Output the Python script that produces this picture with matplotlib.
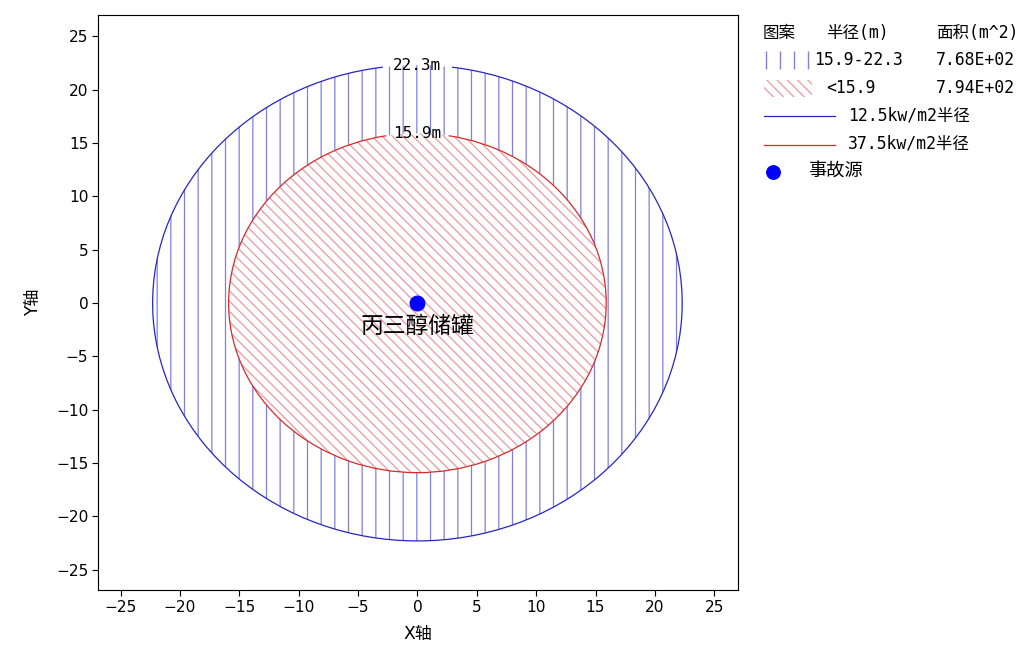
import matplotlib
matplotlib.use("Agg")
import matplotlib.pyplot as plt
from matplotlib.patches import Circle, Arc, Rectangle
from matplotlib.lines import Line2D
from matplotlib.backend_bases import GraphicsContextBase

# finer control of hatch spacing: fewer lines per hatch character
_get_hatch_path = GraphicsContextBase.get_hatch_path
GraphicsContextBase.get_hatch_path = lambda self, density=2.0: _get_hatch_path(self, density)

plt.rcParams['font.family'] = ['DejaVu Sans', 'Noto Sans CJK SC']
plt.rcParams['axes.unicode_minus'] = True
plt.rcParams['hatch.linewidth'] = 1.1

# data
radii = [22.3, 15.9]                 # 12.5 kW/m2, 37.5 kW/m2
radius_labels = ["22.3m", "15.9m"]
source_x = [0.0]
source_y = [0.0]
source_name = "丙三醇储罐"
ticks = [-25, -20, -15, -10, -5, 0, 5, 10, 15, 20, 25]
legend_header = ["图案", "半径(m)", "面积(m^2)"]
zone_ranges = ["15.9-22.3", "<15.9"]
zone_areas = ["7.68E+02", "7.94E+02"]
line_labels = ["12.5kw/m2半径", "37.5kw/m2半径"]
source_label = "事故源"

BLUE = "#2626c4"
RED = "#d42a2a"
BLUE_HATCH = "#8080e4"
RED_HATCH = "#ec98a0"
HATCH_V = "|||"
HATCH_D = "\\" * 8

DPI = 82
fig = plt.figure(figsize=(1028 / DPI, 646 / DPI), dpi=DPI)
ax = fig.add_axes([98 / 1028, 1 - 590 / 646, 640 / 1028, 575 / 646])

# hatched zones
ax.add_patch(Circle((0, 0), radii[0], facecolor="white", edgecolor=BLUE_HATCH,
                    hatch=HATCH_V, lw=0, zorder=1))
ax.add_patch(Circle((0, 0), radii[1], facecolor="white", edgecolor=RED_HATCH,
                    hatch=HATCH_D, lw=0, zorder=2))

# boundary lines, broken where the radius label sits
for r, col, gap in [(radii[0], BLUE, 7.5), (radii[1], RED, 9.5)]:
    ax.add_patch(Arc((0, 0), 2 * r, 2 * r, theta1=90 + gap, theta2=450 - gap,
                     color=col, lw=1.1, zorder=3))
mono = ["DejaVu Sans Mono", "Noto Sans CJK SC"]
for r, lab in zip(radii, radius_labels):
    ax.text(0, r, lab, ha="center", va="center", fontsize=14, family=mono, zorder=4)

# accident source
ax.plot(source_x, source_y, "o", color="#0000ff", ms=13, zorder=5)
ax.text(source_x[0], source_y[0] - 2.2, source_name, ha="center", va="center",
        fontsize=20, family=["Noto Sans CJK SC", "DejaVu Sans"], zorder=5)

ax.set_xlim(-26.9, 27)
ax.set_ylim(-26.9, 27)
ax.set_xticks(ticks)
ax.set_yticks(ticks)
ax.tick_params(direction="out", length=5, width=1, labelsize=13.5)
for s in ax.spines.values():
    s.set_linewidth(1.0)
ax.set_xlabel("X轴", fontsize=15, labelpad=9)
ax.set_ylabel("Y轴", fontsize=15, labelpad=12)

# legend drawn in pixel-like coordinates
lg = fig.add_axes([740 / 1028, 1 - 200 / 646, 288 / 1028, 200 / 646])
lg.set_xlim(740, 1028)
lg.set_ylim(200, 0)
lg.axis("off")
fs = 14.5

lg.text(763, 33, legend_header[0], va="center", fontsize=fs, family=mono)
lg.text(826, 33, legend_header[1], va="center", fontsize=fs, family=mono)
lg.text(936, 33, legend_header[2], va="center", fontsize=fs, family=mono)

lg.vlines([766 + 14 * k for k in range(4)], 51, 69, color=BLUE_HATCH, lw=1.2)
lg.text(814, 60, zone_ranges[0], va="center", fontsize=fs, family=mono)
lg.text(936, 60, zone_areas[0], va="center", fontsize=fs, family=mono)

lg.add_patch(Rectangle((764, 80), 48, 17, facecolor="white", edgecolor=RED_HATCH,
                       hatch=HATCH_D, lw=0))
lg.text(826, 88, zone_ranges[1], va="center", fontsize=fs, family=mono)
lg.text(936, 88, zone_areas[1], va="center", fontsize=fs, family=mono)

for y, col, lab in [(116, BLUE, line_labels[0]), (145, RED, line_labels[1])]:
    lg.add_line(Line2D([764, 835], [y, y], color=col, lw=1.1))
    lg.text(848, y - 1, lab, va="center", fontsize=fs, family=mono)

lg.plot([773], [172], "o", color="#0000ff", ms=12)
lg.text(808, 172, source_label, va="center", fontsize=16, family=mono)

fig.savefig("out.png", dpi=DPI)
